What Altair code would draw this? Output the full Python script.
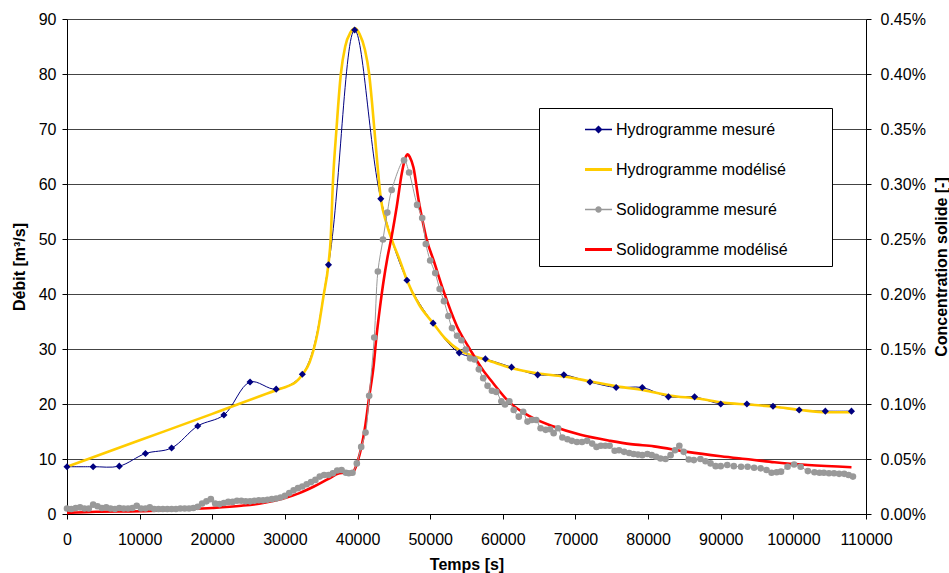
import altair as alt
import pandas as pd

FONT = "Liberation Sans"

# ---------------- data ----------------
hm_t = [0, 3600, 7200, 10800, 14400, 18000, 21600, 25200, 28800, 32400, 36000,
        39600, 43200, 46800, 50400, 54000, 57600, 61200, 64800, 68400, 72000,
        75600, 79200, 82800, 86400, 90000, 93600, 97200, 100800, 104400, 108000]
hm_q = [8.6, 8.6, 8.7, 11.0, 12.0, 16.0, 18.0, 24.0, 22.7, 25.4, 45.3,
        88.0, 57.3, 42.5, 34.7, 29.3, 28.2, 26.7, 25.3, 25.3, 24.0,
        23.0, 23.0, 21.3, 21.3, 20.0, 20.0, 19.6, 18.9, 18.7, 18.7]

hmod_t = [0, 10000, 20000, 28800, 30500, 31500, 32400, 33400, 34500, 35300,
          36000, 36300, 36600, 37100, 37700, 38300, 39000, 39700, 40300, 41000,
          41600, 42000, 42600, 43200, 44000, 44900, 45800, 46800, 48500, 50400,
          52000, 54000, 55500, 57800, 61300, 64700, 68400, 72100, 75700, 79400,
          83100, 86800, 90500, 93800, 97400, 101000, 104700, 108200]
hmod_q = [8.6, 13.4, 18.2, 22.5, 23.3, 24.0, 25.3, 27.6, 33.0, 39.5,
          45.5, 50.0, 60.0, 70.0, 80.0, 85.0, 87.5, 88.3, 87.2, 84.5,
          80.0, 74.7, 65.6, 57.4, 52.8, 49.2, 46.2, 42.5, 38.0, 34.7,
          32.0, 29.8, 28.9, 28.0, 26.5, 25.6, 25.0, 24.1, 23.2, 22.5,
          21.5, 21.0, 20.2, 19.9, 19.5, 18.9, 18.5, 18.5]

sm_t = [0, 600, 1200, 1800, 2400, 3000, 3600, 4200, 4800, 5400,
        6000, 6600, 7200, 7800, 8400, 9000, 9600, 10200, 10800, 11400,
        12000, 12600, 13200, 13800, 14400, 15000, 15600, 16200, 16800, 17400,
        18000, 18600, 19200, 19800, 20400, 21000, 21600, 22200, 22800, 23400,
        24000, 24600, 25200, 25800, 26400, 27000, 27600, 28200, 28800, 29400,
        30000, 30600, 31200, 31800, 32400, 33000, 33600, 34200, 34800, 35400,
        36000, 36600, 37200, 37800, 38400, 38800, 39300, 39900, 40500, 41100,
        41600, 42300, 42800, 43500, 44100, 44700, 46400, 47100, 48200, 48900,
        49400, 50000, 50700, 51300, 51900, 52500, 53000, 53700, 54300, 54900,
        55500, 56100, 56700, 57300, 57900, 58500, 59100, 59800, 60300, 60900,
        61500, 62200, 62800, 63400, 64000, 64600, 65200, 65900, 66500, 67000,
        67600, 68200, 68900, 69500, 70200, 70900, 71600, 72300, 72900, 73500,
        74100, 74700, 75400, 76000, 76700, 77400, 78000, 78600, 79200, 79900,
        80500, 81100, 81700, 82400, 83100, 83700, 84300, 84900, 85600, 86300,
        87200, 87900, 88600, 89300, 90000, 90900, 91800, 92800, 93700, 94600,
        95500, 96300, 97000, 97700, 98300, 99200, 100100, 101000, 102000, 102900,
        103600, 104200, 104900, 105600, 106300, 107000, 107600, 108200]
sm_c = [0.0050, 0.0045, 0.0055, 0.0060, 0.0050, 0.0050, 0.0085, 0.0070, 0.0055, 0.0060,
        0.0050, 0.0045, 0.0055, 0.0050, 0.0050, 0.0055, 0.0075, 0.0050, 0.0050, 0.0060,
        0.0045, 0.0045, 0.0045, 0.0045, 0.0045, 0.0045, 0.0050, 0.0050, 0.0050, 0.0055,
        0.0065, 0.0095, 0.0115, 0.0135, 0.0095, 0.0090, 0.0100, 0.0110, 0.0110, 0.0120,
        0.0120, 0.0115, 0.0115, 0.0120, 0.0125, 0.0125, 0.0130, 0.0135, 0.0140, 0.0150,
        0.0165, 0.0190, 0.0215, 0.0235, 0.0250, 0.0270, 0.0290, 0.0310, 0.0340, 0.0355,
        0.0355, 0.0370, 0.0395, 0.0400, 0.0375, 0.0370, 0.0375, 0.0460, 0.0610, 0.0740,
        0.1075, 0.1605, 0.2205, 0.2495, 0.2740, 0.2945, 0.3215, 0.3105, 0.2810, 0.2690,
        0.2455, 0.2305, 0.2190, 0.2045, 0.1935, 0.1800, 0.1690, 0.1620, 0.1580, 0.1495,
        0.1415, 0.1405, 0.1315, 0.1235, 0.1165, 0.1120, 0.1110, 0.1025, 0.0995, 0.1025,
        0.0945, 0.0885, 0.0930, 0.0840, 0.0855, 0.0855, 0.0780, 0.0765, 0.0770, 0.0735,
        0.0780, 0.0695, 0.0680, 0.0665, 0.0655, 0.0655, 0.0665, 0.0640, 0.0610, 0.0620,
        0.0620, 0.0620, 0.0575, 0.0580, 0.0565, 0.0555, 0.0545, 0.0540, 0.0535, 0.0545,
        0.0535, 0.0520, 0.0505, 0.0500, 0.0535, 0.0580, 0.0620, 0.0565, 0.0495, 0.0490,
        0.0500, 0.0480, 0.0460, 0.0435, 0.0435, 0.0445, 0.0435, 0.0430, 0.0430, 0.0420,
        0.0415, 0.0400, 0.0375, 0.0380, 0.0385, 0.0430, 0.0450, 0.0430, 0.0390, 0.0380,
        0.0375, 0.0375, 0.0370, 0.0370, 0.0365, 0.0365, 0.0355, 0.0340]

smod_t = [0, 4000, 10000, 15000, 20000, 24000, 27000, 30000, 32000, 34000,
          36000, 37500, 38200, 39000, 39500, 40000, 40500, 41000, 41600, 42200,
          42600, 43100, 43600, 44100, 44700, 45400, 46100, 46600, 46900, 47200,
          47700, 48400, 49000, 49500, 50500, 51800, 53700, 55500, 57400, 58300,
          61000, 63800, 67000, 70700, 74800, 77600, 80800, 85400, 90000, 94100,
          97400, 102000, 108000]
smod_c = [0.0010, 0.0020, 0.0025, 0.0040, 0.0055, 0.0075, 0.0100, 0.0145, 0.0190, 0.0250,
          0.0320, 0.0370, 0.0375, 0.0360, 0.0390, 0.0475, 0.0600, 0.0775, 0.1065, 0.1340,
          0.1610, 0.1885, 0.2125, 0.2325, 0.2525, 0.2795, 0.3100, 0.3240, 0.3270, 0.3245,
          0.3150, 0.2855, 0.2650, 0.2500, 0.2300, 0.2035, 0.1705, 0.1495, 0.1295, 0.1220,
          0.1010, 0.0885, 0.0795, 0.0720, 0.0665, 0.0635, 0.0615, 0.0565, 0.0525, 0.0495,
          0.0470, 0.0445, 0.0425]

x_ticks = [0, 10000, 20000, 30000, 40000, 50000, 60000, 70000, 80000, 90000, 100000, 110000]
left_ticks = [0, 10, 20, 30, 40, 50, 60, 70, 80, 90]
right_ticks = [0, 0.05, 0.10, 0.15, 0.20, 0.25, 0.30, 0.35, 0.40, 0.45]

series_names = ["Hydrogramme mesuré", "Hydrogramme modélisé",
                "Solidogramme mesuré", "Solidogramme modélisé"]
series_colors = ["#000080", "#FFCC00", "#999999", "#FF0000"]
legend_paths = [
    "M-1,-0.05H1V0.05H-1Z M0,-0.3L0.3,0L0,0.3L-0.3,0Z",
    "M-1,-0.11H1V0.11H-1Z",
    "M-1,-0.05H1V0.05H-1Z M0.24,0A0.24,0.24 0 1,1 -0.24,0A0.24,0.24 0 1,1 0.24,0Z",
    "M-1,-0.11H1V0.11H-1Z",
]

hm = pd.DataFrame({"t": hm_t, "q": hm_q})
hmod = pd.DataFrame({"t": hmod_t, "q": hmod_q})
sm = pd.DataFrame({"t": sm_t, "c": sm_c})
smod = pd.DataFrame({"t": smod_t, "c": smod_c})

x_scale = alt.Scale(domain=[0, 110000], nice=False, zero=False)
x_axis = alt.Axis(title="Temps [s]", values=x_ticks, format="d", grid=False,
                  labelPadding=12, titlePadding=9, labelFlush=False)
x_enc = alt.X("t:Q", scale=x_scale, axis=x_axis)

left_scale = alt.Scale(domain=[0, 90], nice=False)
left_axis = alt.Axis(title="Débit [m³/s]", values=left_ticks, grid=True,
                     labelPadding=6, titlePadding=11)

right_scale = alt.Scale(domain=[0, 0.45], nice=False)
right_axis = alt.Axis(title="Concentration solide [-]", orient="right",
                      values=right_ticks, grid=False, labelPadding=9,
                      titlePadding=24, titleAngle=270,
                      labelExpr="format(datum.value, '.2f') + '%'")

BLANK = "\u2800" * 3  # blank (invisible) characters that widen the legend box
legend_def = alt.Legend(
    title=None, orient="none", legendX=472, legendY=89,
    padding=8, fillColor="white", strokeColor="black",
    labelFont=FONT, labelFontSize=16, labelColor="black", labelLimit=400,
    symbolSize=729, symbolStrokeWidth=0, symbolOffset=38, labelOffset=4,
    rowPadding=18,
    labelExpr="datum.label + '" + BLANK + "'",
)

blue_line = alt.Chart(hm).mark_line(color="#000080", strokeWidth=1,
                                    interpolate="catmull-rom").encode(
    x=x_enc, y=alt.Y("q:Q", scale=left_scale, axis=left_axis))
yellow_line = alt.Chart(hmod).mark_line(color="#FFCC00", strokeWidth=2.6,
                                        interpolate="monotone").encode(
    x=x_enc, y=alt.Y("q:Q", scale=left_scale, axis=left_axis))
blue_pts = alt.Chart(hm).mark_point(shape="diamond", filled=True, color="#000080",
                                    size=50, opacity=1).encode(
    x=x_enc, y=alt.Y("q:Q", scale=left_scale, axis=left_axis))

legend_layer = alt.Chart(
    alt.Data(values=[{"s": n} for n in series_names])
).transform_filter("false").mark_point(filled=True, size=729, opacity=1).encode(
    color=alt.Color("s:N", scale=alt.Scale(domain=series_names, range=series_colors),
                    legend=legend_def),
    shape=alt.Shape("s:N", scale=alt.Scale(domain=series_names, range=legend_paths),
                    legend=legend_def),
)

left = alt.layer(blue_line, yellow_line, blue_pts, legend_layer)

red_line = alt.Chart(smod).mark_line(color="#FF0000", strokeWidth=2.6,
                                     interpolate="monotone").encode(
    x=x_enc, y=alt.Y("c:Q", scale=right_scale, axis=right_axis))
gray_line = alt.Chart(sm).mark_line(color="#999999", strokeWidth=1,
                                    interpolate="catmull-rom").encode(
    x=x_enc, y=alt.Y("c:Q", scale=right_scale, axis=right_axis))
gray_pts = alt.Chart(sm).mark_circle(color="#999999", size=44, opacity=1).encode(
    x=x_enc, y=alt.Y("c:Q", scale=right_scale, axis=right_axis))

right = alt.layer(red_line, gray_line, gray_pts)

chart = alt.layer(left, right).resolve_scale(y="independent").properties(
    width=799, height=495,
    autosize=alt.AutoSizeParams(type="none"),
    padding={"left": 67, "top": 19, "right": 83, "bottom": 59},
    background="white",
).configure_view(stroke=None).configure_axis(
    labelFont=FONT, labelFontSize=16, labelColor="black",
    titleFont=FONT, titleFontSize=16, titleFontWeight="bold", titleColor="black",
    domainColor="black", domainWidth=1, tickColor="black", tickSize=5,
    gridColor="#444444", gridWidth=1,
)

chart.save("out.html", embed_options={"renderer": "svg", "actions": False})
